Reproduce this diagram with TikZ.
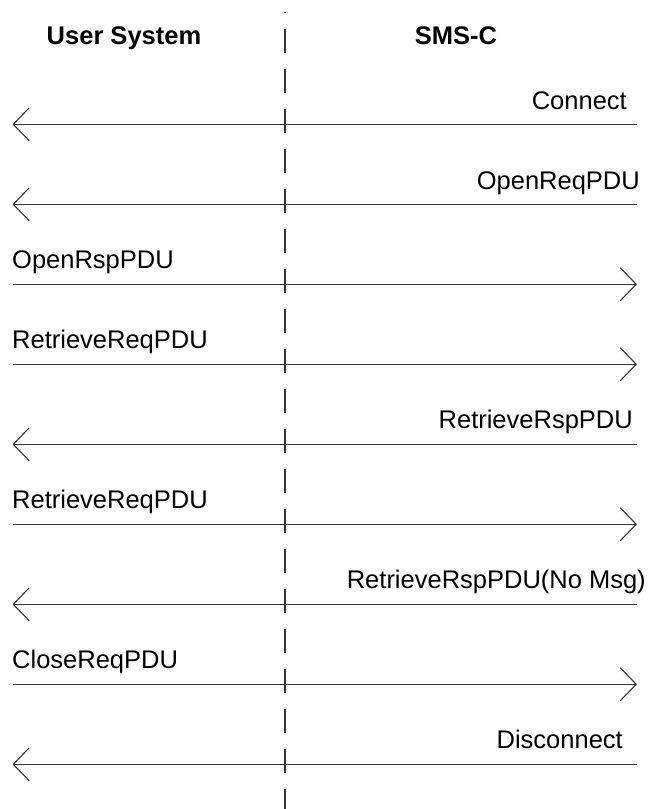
\documentclass[tikz,border=0pt]{standalone}
\usepackage{fontspec}
\setmainfont{Liberation Sans}
\usetikzlibrary{arrows.meta}
\begin{document}
\begin{tikzpicture}[x=1pt,y=-1pt,
  msg/.style={draw=black!80, line width=1.1pt, -{Straight Barb[length=16pt,width=33pt,line width=1.1pt]}},
  lbl/.style={inner sep=0pt, font=\fontsize{25.5}{30}\selectfont},
  hdr/.style={inner sep=0pt, font=\fontsize{25.5}{30}\selectfont\bfseries},
  life/.style={draw=black!80, line width=1.1pt, dash pattern=on 24pt off 16pt, dash phase=23pt}]
\useasboundingbox (0,0) rectangle (653,809);
% headers
\node[hdr, anchor=base] (us) at (124,44.5) {User System};
\node[hdr, anchor=base] (sc) at (456,44.5) {SMS-C};
% lifeline divider
\coordinate (top) at (285,12);
\coordinate (bot) at (285,809);
\draw[life] (top) -- (bot);
% end points
\foreach \i/\y in {1/124.3,2/204.3,3/284.3,4/364.3,5/444.3,6/524.3,7/604.3,8/684.3,9/764.3}{
  \coordinate (L\i) at (12.5,\y);
  \coordinate (R\i) at (637,\y);
}
% messages
\draw[msg] (R1) -- (L1);
\draw[msg] (R2) -- (L2);
\draw[msg] (L3) -- (R3);
\draw[msg] (L4) -- (R4);
\draw[msg] (R5) -- (L5);
\draw[msg] (L6) -- (R6);
\draw[msg] (R7) -- (L7);
\draw[msg] (L8) -- (R8);
\draw[msg] (R9) -- (L9);
% labels
\node[lbl, anchor=base east] (m1) at (627,109) {Connect};
\node[lbl, anchor=base east] (m2) at (640,189) {OpenReqPDU};
\node[lbl, anchor=base west] (m3) at (12,268) {OpenRspPDU};
\node[lbl, anchor=base west] (m4) at (12,348) {RetrieveReqPDU};
\node[lbl, anchor=base east] (m5) at (633,428) {RetrieveRspPDU};
\node[lbl, anchor=base west] (m6) at (12,508) {RetrieveReqPDU};
\node[lbl, anchor=base east] (m7) at (646,588) {RetrieveRspPDU(No Msg)};
\node[lbl, anchor=base west] (m8) at (12,668) {CloseReqPDU};
\node[lbl, anchor=base east] (m9) at (623,748) {Disconnect};
\end{tikzpicture}
\end{document}
